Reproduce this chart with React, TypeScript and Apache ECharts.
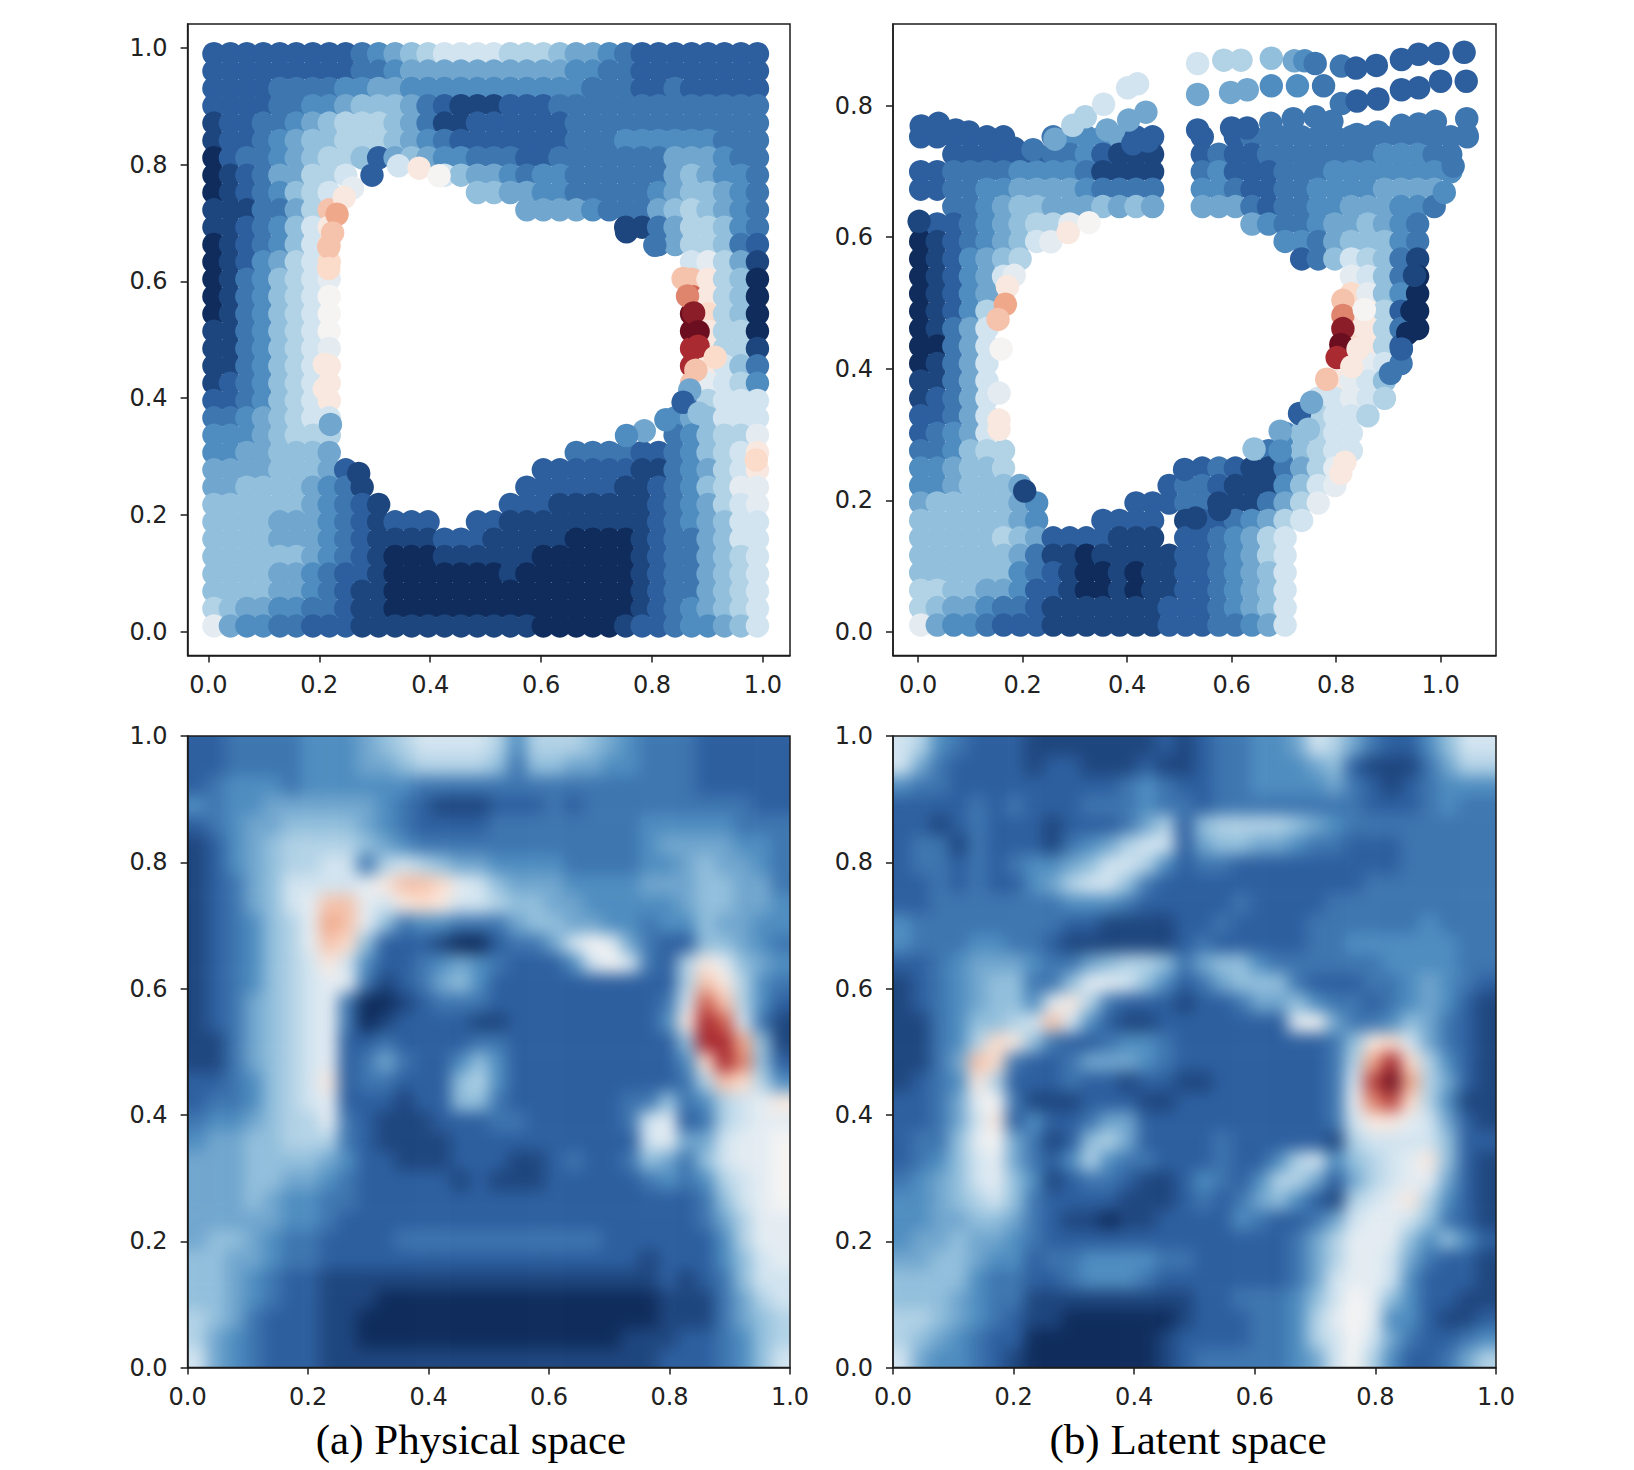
import React, { useEffect, useRef } from "react";
import * as echarts from "echarts";

// Colour levels: 0 = deep blue, w = white (0.5), j = deep red (1.0); "." = no mark, ".N" = N empty cells
const LEVELS = "0123456789wabcdefghij";
const RDBU = ["#0f2c5c", "#2d5f9f", "#4f8dc0", "#92bfdc", "#d2e4f0", "#f5f4f3", "#fbdccb", "#efa88a", "#cf5f4f", "#a92a30", "#6b0f20"];

const xTicks = [0, 0.2, 0.4, 0.6, 0.8, 1.0];
const yTicks = [0, 0.2, 0.4, 0.6, 0.8, 1.0];
const yTicksLatent = [0, 0.2, 0.4, 0.6, 0.8];
const captions = ["(a) Physical space", "(b) Latent space"];

const physicalXs = { start: 0.01, step: 0.0297 };
const physicalYs = { start: 0.99, step: 0.0297 };
const latentXs = { start: 0.005, step: 0.0317 };
const latentYs = { start: 0.885, step: 0.0265 };

const physicalDotRows = [
  "222222222 3456 788887776 5543 22222222",
  "222222222 33 4 555555555 5 4 43 3 22222222",
  "2222 3333 4 45 5 4 4444444444 333 22322222",
  "2222 33 44 5 666 5 3 2 111 222 333333 3333333",
  "122 33 4 5 6 777 6 5 3 1122 2222 33333 3333333",
  "122 3 4 5 66 777 6 5 4 3 2222 222 333 44444 4333",
  "023 3 4 5 6 77 6 2 5 6 5 44 333 22 33333 33 555 4 33",
  "012 3 55 77 8 .5 8 6 55 4 3443 3333 3 565 4 43",
  "012 3 4 6 7 8 .8 66 55 4 4333 33 4 5 66 5 4 3",
  "111 33 5 7 c .11 5555 4 333 5 6 7 6 5 4 3",
  "11234 6 8 a .17 11 3 5 77 6 4 3",
  "01234 6 8 b .19 3 5 77 6 3 2",
  "01245 7 8 b .21 8 9 7 5 1",
  "01346789 .21 c a 7 6 0",
  "0134678w .21 f a 7 6 0",
  "0134678w .21 j b 7 6 0",
  "1134678w .21 j a 7 7 0",
  "11346789 .21 h a 7 7 1",
  "1134678a .21 h a 8 6 3",
  "1234678a .21 c 9 8 7 4",
  "2234678a .21 3 7 8 8 8",
  "33456788 .20 4 5 6 8 8 8",
  "44456777 .20 3 4 6 7 7 9",
  "445 5666 5 .14 3333 22 3 4 6 7 8 a",
  "555 5666 5 2 .11 222222 11 3 4 5 7 8 a",
  "556 666 5 4 3 1 .9 2 222221 1 2 3 4 6 7 9 9",
  "666666 5 4 3 2 1 .7 2 22111 111 2 3 4 5 7 8 9",
  "666655 5 4 3 2 1 222 .2 22 1 111111 11 2 3 4 5 6 8 8",
  "666655 5 4 3 2 1 11122 2 1 1111 0000 1 2 3 3 5 6 8 8",
  "666666 54 3 2 1 000 1111 1100 0000 1 2 3 3 5 6 7 8",
  "666655 43 2 2 1 000 0000 1000 0000 1 2 3 3 5 6 7 8",
  "666655 43 2 1 1 000 0000 0000 0000 1 2 3 3 5 6 7 8",
  "7 6 5 5 4 4 3 3 2 1 1 000000000000000 1 2 3 4 5 6 7 8",
  "9 5 4 4 3 3 2 2 2 1 1 111111111 000001 2 2 3 4 4 5 6 8",
];

const physicalDots: [number, number, string][] = [
  [0.343, 0.798, "8"], [0.38, 0.794, "a"], [0.416, 0.781, "w"], [0.26, 0.76, "9"], [0.245, 0.744, "a"],
  [0.232, 0.715, "d"], [0.224, 0.683, "c"], [0.217, 0.659, "c"], [0.217, 0.622, "b"], [0.295, 0.782, "2"],
  [0.754, 0.685, "1"], [0.805, 0.662, "3"], [0.856, 0.605, "c"], [0.864, 0.575, "e"], [0.875, 0.546, "i"],
  [0.883, 0.514, "j"], [0.883, 0.489, "h"], [0.914, 0.47, "b"], [0.879, 0.448, "c"], [0.868, 0.414, "5"],
  [0.856, 0.393, "2"], [0.885, 0.374, "6"], [0.825, 0.363, "4"], [0.786, 0.344, "5"], [0.754, 0.336, "4"],
  [0.271, 0.271, "1"], [0.22, 0.355, "5"], [0.209, 0.416, "a"], [0.209, 0.458, "a"], [0.988, 0.294, "b"],
];

const latentDotRows = [
  ".34", ".34", ".34", ".34", ".34",
  "222222 .2 3 4 44 5 2 2 .2 2 .1 2 3 3 333333333333",
  ".2 22222 2 3 3 4 2 1 1 1 .2 2 3 2 2 3 3 3333344433 .1",
  "223333444431111 .2 34222333 44444444 .1",
  "223344555543333 .2 44322334 4445555 .2",
  ".2 3345665556565 .2 555323344555443 .2",
  "1223456779 .10 54334556543 .3",
  "01234568 .14 443566643 .3",
  "0124567 .16 23687631 .3",
  "012458 .20 98630 .3",
  "01245 .21 b9640 .3",
  "01247 .21 aa720 .3",
  "01358 .21 aa730 .3",
  "00358 .21 ba72 .4",
  "01358 .21 a983 .4",
  "11358 .20 a986 .5",
  "12358 .19 88987 .5",
  "22358 .18 77887 .6",
  "23458 .17 46788 .7",
  "334677 .15 346788 .7",
  "445667 .11 232113579 .8",
  "445666 5 .8 23321114689 .8",
  "566666 5 4 .5 222331113579 .9",
  "666666 5 4 .3 2222 .1 12234578 .10",
  "666667 6 5 2222111 .1 2234578 .11",
  "666666 5 3 11011111 2234578 .11",
  "666666 4 3 21001011 2234568 .11",
  "776655 4 2 21001011 2234568 .11",
  "765543 3 2 11111112 2234568 .11",
  "954432 2 2 11111112 2233458 .11",
];

const latentDots: [number, number, string][] = [
  [0.006, 0.769, "2"], [0.039, 0.773, "2"], [0.072, 0.763, "2"], [0.097, 0.76, "2"], [0.151, 0.742, "2"], [0.184, 0.735, "2"], [0.22, 0.733, "3"],
  [0.535, 0.864, "8"], [0.585, 0.869, "7"], [0.618, 0.869, "7"], [0.676, 0.872, "6"], [0.72, 0.868, "5"], [0.74, 0.868, "4"],
  [0.76, 0.864, "3"], [0.81, 0.86, "3"], [0.838, 0.857, "2"], [0.877, 0.861, "2"], [0.925, 0.87, "2"], [0.958, 0.878, "2"], [0.995, 0.879, "2"], [1.045, 0.881, "2"],
  [0.535, 0.817, "5"], [0.598, 0.82, "5"], [0.63, 0.824, "5"], [0.676, 0.83, "4"], [0.726, 0.83, "4"], [0.776, 0.83, "3"],
  [0.81, 0.803, "3"], [0.84, 0.807, "2"], [0.88, 0.81, "2"], [0.925, 0.824, "2"], [0.958, 0.827, "2"], [1.0, 0.837, "2"], [1.049, 0.837, "2"],
  [0.535, 0.763, "2"], [0.6, 0.766, "2"], [0.63, 0.766, "2"], [0.675, 0.773, "3"], [0.718, 0.78, "3"], [0.76, 0.783, "3"], [0.792, 0.776, "3"],
  [0.84, 0.756, "3"], [0.88, 0.76, "3"], [0.925, 0.77, "3"], [0.958, 0.772, "3"], [0.99, 0.776, "3"], [1.05, 0.78, "3"], [1.05, 0.756, "3"],
  [1.024, 0.708, "3"], [1.007, 0.668, "4"],
  [0.262, 0.749, "5"], [0.296, 0.77, "7"], [0.32, 0.783, "7"], [0.355, 0.802, "8"], [0.401, 0.827, "8"], [0.42, 0.833, "8"], [0.403, 0.778, "5"], [0.436, 0.79, "5"], [0.362, 0.763, "5"],
  [0.411, 0.742, "2"], [0.44, 0.746, "2"],
  [0.254, 0.593, "9"], [0.287, 0.607, "a"], [0.327, 0.622, "w"], [0.184, 0.542, "9"], [0.171, 0.525, "a"], [0.167, 0.498, "d"], [0.153, 0.475, "c"],
  [0.159, 0.43, "w"], [0.155, 0.363, "9"], [0.155, 0.322, "a"], [0.155, 0.308, "a"],
  [0.813, 0.504, "c"], [0.813, 0.481, "e"], [0.813, 0.461, "i"], [0.809, 0.437, "j"], [0.802, 0.417, "h"], [0.782, 0.384, "c"],
  [0.854, 0.49, "w"], [0.842, 0.43, "a"], [0.83, 0.403, "a"],
  [0.73, 0.332, "2"], [0.753, 0.349, "5"], [0.747, 0.308, "6"], [0.693, 0.305, "5"], [0.693, 0.275, "4"], [0.643, 0.278, "6"],
  [0.809, 0.241, "a"], [0.817, 0.258, "a"], [0.204, 0.214, "1"], [0.51, 0.247, "2"], [0.643, 0.234, "1"], [0.577, 0.186, "1"], [0.531, 0.173, "1"],
  [0.95, 0.542, "1"], [0.945, 0.488, "0"], [0.937, 0.454, "0"], [0.925, 0.43, "2"], [0.904, 0.393, "3"], [0.002, 0.624, "1"],
];

const physicalHeatRows = [
  "22 3333 444 5 6 788887 4 777 6 5 4 333 22222",
  "22 3333 444 5 5 677776 3 665 5 4 4 333 22222",
  "23 4443 444 4 4 433333 3 333 3 3 3 333 22222",
  "43 4455 555 5 4 321112 2 232 3 3 3 333 33322",
  "23 4556 666 5 4 322223 3 333 3 3 3 444 44333",
  "12 4567 777 6 5 433333 3 333 3 3 3 455 55443",
  "12 4567 788 3 7 876554 4 443 3 3 3 445 65543",
  "12 3568 888 9 a ccb986 5 554 4 4 4 555 66553",
  "12 3568 9cc 9 8 aba887 6 655 4 4 4 445 66554",
  "12 3467 9dc 9 6 344333 5 665 5 4 4 344 65544",
  "12 3467 9cb 6 2 221002 3 358 w 9 5 322 66543",
  "12 3467 8a8 4 2 234543 2 224 8 w 8 327 a9654",
  "12 3467 899 3 1 235642 2 222 2 2 2 227 ca743",
  "12 3567 893 0 0 123332 2 222 2 2 2 238 fc742",
  "12 3567 893 0 1 222211 2 222 2 2 2 24a hf831",
  "11 3567 892 2 3 222233 2 222 2 2 2 226 hhd61",
  "11 3567 892 3 5 322464 2 222 2 2 2 224 bhe62",
  "22 3467 8a2 3 3 222674 2 222 2 2 2 223 7cb74",
  "23 3467 892 2 2 122663 2 222 2 2 3 363 4789a",
  "34 4567 793 2 1 112223 3 222 2 2 3 892 37899",
  "45 5667 773 2 1 111222 2 222 2 2 2 895 5899w",
  "55 5666 654 2 2 111222 1 123 2 2 3 653 6899w",
  "55 5665 543 2 2 222121 1 122 2 2 2 343 4789w",
  "55 5654 433 2 2 222222 2 222 2 2 2 222 3689w",
  "55 5554 432 2 2 222222 2 222 2 2 2 222 35799",
  "56 6543 322 2 2 333333 3 333 3 2 2 222 24799",
  "66 5543 322 2 2 222222 2 222 2 2 2 122 24689",
  "66 5432 211 1 1 111111 1 111 1 1 1 121 23688",
  "66 5432 211 1 0 000000 0 000 0 0 0 011 13578",
  "76 5322 211 0 0 000000 0 000 0 0 0 011 13567",
  "75 4322 211 0 0 000000 0 000 0 0 1 112 23467",
  "85 4322 211 1 1 111111 1 111 1 1 1 122 23468",
];

const latentHeatRows = [
  "87 4322 211 1 1 111212 3 344 5 8 7 532 24688",
  "85 3222 212 2 1 112112 3 344 4 5 6 211 13577",
  "43 3222 222 2 2 234322 3 344 4 4 5 321 23444",
  "22 2232 322 2 3 334332 3 333 3 3 3 322 23433",
  "22 1232 221 2 2 235726 7 777 6 5 4 333 33333",
  "23 3132 221 3 4 578825 6 655 4 3 3 222 33333",
  "23 3232 344 5 6 887423 3 222 2 2 2 222 33333",
  "22 3232 245 7 8 863222 2 222 2 2 2 233 33333",
  "22 3333 333 4 4 432222 2 322 2 2 3 333 33333",
  "43 3333 333 2 2 111122 3 222 2 3 3 333 34333",
  "43 3344 332 1 1 111123 2 222 2 3 3 444 44433",
  "22 3455 543 3 5 677635 6 643 3 3 3 334 44433",
  "12 3456 633 6 9 986423 5 666 3 2 2 233 45432",
  "12 3456 649 a 7 322212 2 355 6 4 3 323 45421",
  "11 3466 78c 8 4 211222 2 222 9 w 5 334 65321",
  "11 347b a63 2 2 344322 2 222 2 2 3 6ab 85321",
  "11 35cb 322 3 5 554322 2 222 2 2 3 7dh b7421",
  "12 34a7 222 3 2 212211 2 222 2 2 3 8gj d7521",
  "22 359w 311 1 2 221122 2 222 2 2 3 9eg b7411",
  "22 358a 242 2 3 552222 2 222 2 2 3 8aa 98521",
  "23 369w 531 2 6 752222 3 222 2 2 1 788 88622",
  "23 4689 532 4 7 433222 3 224 7 8 4 678 9a621",
  "34 5689 641 2 3 321124 3 247 7 5 2 578 99521",
  "44 5678 632 2 2 211123 2 356 4 2 1 789 a7421",
  "44 5566 532 1 1 011222 2 432 2 3 5 899 86321",
  "45 5655 432 2 2 222222 2 222 3 5 7 999 64642",
  "55 6654 423 3 4 444332 2 222 3 5 7 998 53221",
  "66 6643 322 3 4 443222 2 222 3 5 8 998 42221",
  "66 6543 311 1 1 111112 2 333 4 6 8 w96 42211",
  "77 6543 211 0 0 000012 2 233 4 7 9 w94 42112",
  "76 5432 200 0 0 000122 2 233 4 7 8 w85 32234",
  "85 4432 100 0 0 000123 3 333 4 5 8 w74 22357",
];

const panels = {
  topLeft: { left: 187.6, top: 24, width: 602.4, height: 631.6 },
  topRight: { left: 893, top: 24, width: 603, height: 631.6 },
  bottomLeft: { left: 187.6, top: 736, width: 602.4, height: 631.6 },
  bottomRight: { left: 893, top: 736, width: 603, height: 631.6 },
};

const level = (c: string) => LEVELS.indexOf(c) * 0.05;
const expandRow = (row: string) =>
  row.split(" ").map((t) => (t[0] === "." ? ".".repeat(Number(t.slice(1))) : t)).join("");

function latticePoints(rows: string[], xs: { start: number; step: number }, ys: { start: number; step: number }) {
  const out: number[][] = [];
  rows.forEach((row, r) => {
    expandRow(row).split("").forEach((c, k) => {
      if (c !== ".") out.push([xs.start + k * xs.step, ys.start - r * ys.step, level(c)]);
    });
  });
  return out;
}
const freePoints = (list: [number, number, string][]) => list.map(([x, y, c]) => [x, y, level(c)]);

const AXIS_COLOR = "#1c1c1c";
function valueAxis(gridIndex: number, min: number, max: number, ticks: number[], isY: boolean) {
  return {
    type: "value",
    gridIndex,
    min,
    max,
    splitLine: { show: false },
    axisLine: { show: true, onZero: false, lineStyle: { color: AXIS_COLOR, width: 1.5 } },
    axisTick: { show: true, length: 7, customValues: ticks, lineStyle: { color: AXIS_COLOR, width: 1.5 } },
    axisLabel: {
      customValues: ticks,
      formatter: (v: number) => v.toFixed(1),
      fontFamily: "DejaVu Sans",
      fontSize: 24,
      color: "#222",
      margin: isY ? 20 : 17,
    },
  };
}

const PAD = 2; // cells repeated past the plot edge, clipped by the frame
function HeatLayer({ rows, box }: { rows: string[]; box: { left: number; top: number; width: number; height: number } }) {
  const ref = useRef<HTMLDivElement>(null);
  const parsed = rows.map(expandRow);
  const N = parsed.length;
  const cellW = box.width / N;
  const cellH = box.height / N;
  useEffect(() => {
    const chart = echarts.init(ref.current!, undefined, { renderer: "svg" });
    const data: number[][] = [];
    const cats: number[] = [];
    for (let i = 0; i < N + 2 * PAD; i++) cats.push(i);
    for (let iy = 0; iy < N + 2 * PAD; iy++) {
      for (let ix = 0; ix < N + 2 * PAD; ix++) {
        const r = Math.min(N - 1, Math.max(0, iy - PAD));
        const c = Math.min(N - 1, Math.max(0, ix - PAD));
        const ch = parsed[r][c] ?? "2";
        data.push([ix, N + 2 * PAD - 1 - iy, level(ch)]);
      }
    }
    chart.setOption({
      animation: false,
      grid: { left: 0, top: 0, right: 0, bottom: 0 },
      xAxis: { type: "category", data: cats, show: false },
      yAxis: { type: "category", data: cats, show: false },
      visualMap: { show: false, min: 0, max: 1, dimension: 2, inRange: { color: RDBU } },
      series: [{ type: "heatmap", data, silent: true, progressive: 0 }],
    });
    return () => chart.dispose();
  }, []);
  return (
    <div style={{ position: "absolute", left: box.left, top: box.top, width: box.width, height: box.height, overflow: "hidden" }}>
      <div
        ref={ref}
        style={{
          position: "absolute",
          left: -PAD * cellW,
          top: -PAD * cellH,
          width: box.width + 2 * PAD * cellW,
          height: box.height + 2 * PAD * cellH,
          filter: "blur(8px)",
        }}
      />
    </div>
  );
}

export default function App() {
  const ref = useRef<HTMLDivElement>(null);
  useEffect(() => {
    const chart = echarts.init(ref.current!, undefined, { renderer: "svg" });
    const scatter = (data: number[][], idx: number) => ({
      type: "scatter",
      xAxisIndex: idx,
      yAxisIndex: idx,
      data,
      symbolSize: 23.5,
      silent: true,
      itemStyle: { opacity: 1 },
    });
    const box = (p: { left: number; top: number; width: number; height: number }) => ({
      ...p,
      show: true,
      borderColor: AXIS_COLOR,
      borderWidth: 1.5,
      backgroundColor: "transparent",
    });
    chart.setOption({
      animation: false,
      backgroundColor: "transparent",
      grid: [box(panels.topLeft), box(panels.topRight), box(panels.bottomLeft), box(panels.bottomRight)],
      xAxis: [
        valueAxis(0, -0.0375, 1.0488, xTicks, false),
        valueAxis(1, -0.048, 1.106, xTicks, false),
        valueAxis(2, 0, 1, xTicks, false),
        valueAxis(3, 0, 1, xTicks, false),
      ],
      yAxis: [
        valueAxis(0, -0.041, 1.041, yTicks, true),
        valueAxis(1, -0.036, 0.924, yTicksLatent, true),
        valueAxis(2, 0, 1, yTicks, true),
        valueAxis(3, 0, 1, yTicks, true),
      ],
      visualMap: { show: false, min: 0, max: 1, dimension: 2, seriesIndex: [0, 1, 2, 3], inRange: { color: RDBU } },
      series: [
        scatter(latticePoints(physicalDotRows, physicalXs, physicalYs), 0),
        scatter(freePoints(physicalDots), 0),
        scatter(latticePoints(latentDotRows, latentXs, latentYs), 1),
        scatter(freePoints(latentDots), 1),
      ],
      graphic: captions.map((text, i) => ({
        type: "text",
        x: i === 0 ? 471 : 1188,
        y: 1439,
        style: {
          text,
          fill: "#000",
          fontFamily: "Liberation Serif",
          fontSize: 43,
          textAlign: "center",
          textVerticalAlign: "middle",
        },
      })),
    });
    return () => chart.dispose();
  }, []);
  return (
    <div style={{ position: "absolute", left: 0, top: 0, width: 1634, height: 1470, background: "#fff", overflow: "hidden" }}>
      <HeatLayer rows={physicalHeatRows} box={panels.bottomLeft} />
      <HeatLayer rows={latentHeatRows} box={panels.bottomRight} />
      <div ref={ref} style={{ position: "absolute", left: 0, top: 0, width: 1634, height: 1470 }} />
    </div>
  );
}
